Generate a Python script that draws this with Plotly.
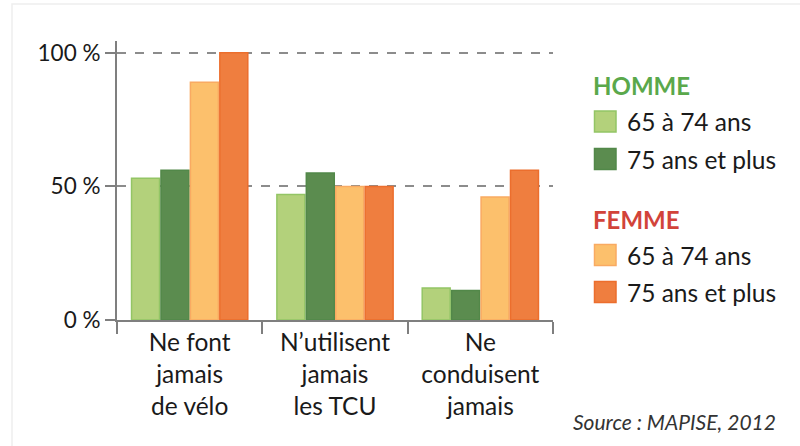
import plotly.graph_objects as go

categories = ["Ne font<br>jamais<br>de vélo", "N’utilisent<br>jamais<br>les TCU", "Ne<br>conduisent<br>jamais"]
series_names = ["65 à 74 ans", "75 ans et plus", "65 à 74 ans", "75 ans et plus"]
series_groups = ["HOMME", "HOMME", "FEMME", "FEMME"]
homme_65_74 = [53, 47, 12]
homme_75_plus = [56, 55, 11]
femme_65_74 = [89, 50, 46]
femme_75_plus = [100, 50, 56]
y_tickvals = [0, 50, 100]
y_ticktext = ["0 %", "50 %", "100 %"]
source_text = "Source : MAPISE, 2012"

series_values = [homme_65_74, homme_75_plus, femme_65_74, femme_75_plus]
fills = ["#b3d17b", "#5b8c4f", "#fcc06c", "#ef7e3f"]
borders = ["#93c565", "#528849", "#f9aa62", "#ec6e2d"]
group_colors = {"HOMME": "#5aa84b", "FEMME": "#d2433a"}

FONT = "Lato, 'Liberation Sans', sans-serif"

W, H = 800, 446
L, R, T, B = 117, 553, 41, 320  # plot area in pixels

fig = go.Figure()
for name, vals, fc, bc in zip(series_names, series_values, fills, borders):
    fig.add_trace(go.Bar(
        x=categories, y=vals, name=name,
        marker=dict(color=fc, line=dict(color=bc, width=1.5)),
        showlegend=False,
    ))

def px(x):
    return (x - L) / (R - L)
def py(y):
    return (B - y) / (B - T)

legend_rows = [("HOMME", 85), (0, 121.5), (1, 159),
               ("FEMME", 220), (2, 255), (3, 292)]
shapes = []
annotations = []
for key, yc in legend_rows:
    if isinstance(key, str):
        annotations.append(dict(
            x=px(591), y=py(yc), xref="paper", yref="paper",
            text="<b>" + key + "</b>", showarrow=False, xanchor="left", yanchor="middle",
            font=dict(family=FONT, size=24, color=group_colors[key])))
    else:
        shapes.append(dict(
            type="rect", xref="paper", yref="paper",
            x0=px(594.5), x1=px(616), y0=py(yc - 10.5), y1=py(yc + 10.5),
            fillcolor=fills[key], line=dict(color=borders[key], width=1.5)))
        annotations.append(dict(
            x=px(625), y=py(yc), xref="paper", yref="paper",
            text=series_names[key], showarrow=False, xanchor="left", yanchor="middle",
            font=dict(family=FONT, size=24.5, color="#1a1a1a")))

annotations.append(dict(
    x=px(778), y=py(421.5), xref="paper", yref="paper",
    text="<i>" + source_text + "</i>", showarrow=False, xanchor="right", yanchor="middle",
    font=dict(family=FONT, size=21, color="#333333")))

# faint panel border
shapes.append(dict(type="rect", xref="paper", yref="paper",
                   x0=px(12), x1=px(810), y0=py(450), y1=py(4),
                   line=dict(color="#eeeeee", width=1.5), fillcolor="rgba(0,0,0,0)", layer="below"))

fig.update_layout(
    width=W, height=H,
    margin=dict(l=L, r=W - R, t=T, b=H - B, autoexpand=False),
    paper_bgcolor="white", plot_bgcolor="white",
    barmode="group", bargap=0.19, bargroupgap=0.05,
    font=dict(family=FONT, size=24, color="#1a1a1a"),
    shapes=shapes, annotations=annotations,
    xaxis=dict(
        tickson="boundaries", ticks="outside", ticklen=12, tickwidth=2, tickcolor="#7f7f7f",
        showline=True, linecolor="#7f7f7f", linewidth=2,
        tickfont=dict(family=FONT, size=24.5, color="#1a1a1a"),
        showgrid=False, fixedrange=True,
    ),
    yaxis=dict(
        range=[0, 104.4], tickvals=y_tickvals, ticktext=y_ticktext,
        ticks="outside", ticklen=10, tickwidth=2, tickcolor="#7f7f7f",
        showline=True, linecolor="#7f7f7f", linewidth=2,
        showgrid=True, gridcolor="#8c8c8c", gridwidth=1.5, griddash="dash",
        zeroline=False,
        tickfont=dict(family=FONT, size=22.5, color="#1a1a1a"),
    ),
)

fig.write_html("out.html", config={"displayModeBar": False},
               post_script="document.body.style.margin='0';")
